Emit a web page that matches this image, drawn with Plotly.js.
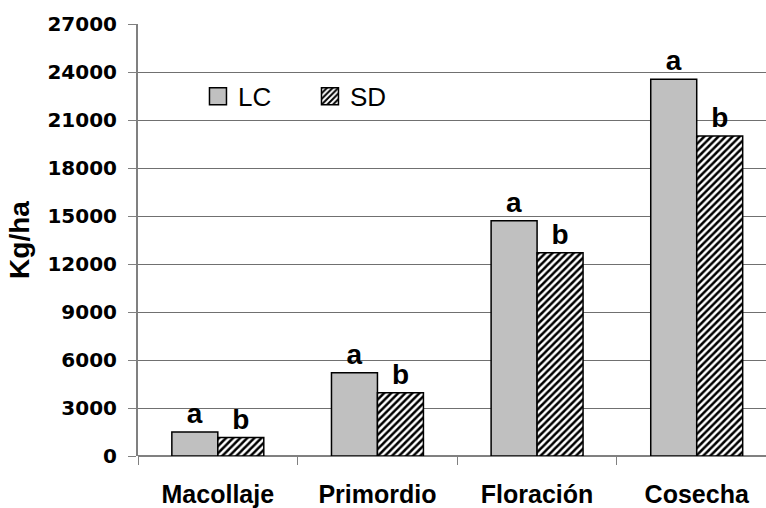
<!DOCTYPE html>
<html>
<head>
<meta charset="utf-8">
<script src="https://cdn.plot.ly/plotly-3.0.1.min.js"></script>
<style>
  html, body { margin: 0; padding: 0; background: #ffffff; }
  #chart { width: 766px; height: 508px; }
</style>
</head>
<body>
<div id="chart"></div>
<script>
// ---- data ----
var categories = ['Macollaje', 'Primordio', 'Floración', 'Cosecha'];
var seriesNames = ['LC', 'SD'];
var lcValues = [1500, 5200, 14700, 23550];
var sdValues = [1150, 3950, 12700, 20000];
var lcLetters = ['a', 'a', 'a', 'a'];
var sdLetters = ['b', 'b', 'b', 'b'];
var yTickValues = [0, 3000, 6000, 9000, 12000, 15000, 18000, 21000, 24000, 27000];
var yTickLabels = ['0', '3000', '6000', '9000', '12000', '15000', '18000', '21000', '24000', '27000'];

var letterFont = { family: 'Liberation Sans, Arial, sans-serif', size: 28, color: '#000000', weight: 'bold' };

var traceLC = {
  type: 'bar',
  name: seriesNames[0],
  x: categories,
  y: lcValues,
  text: lcLetters,
  textposition: 'outside',
  outsidetextfont: letterFont,
  textfont: letterFont,
  cliponaxis: false,
  hoverinfo: 'none',
  marker: {
    color: '#c0c0c0',
    line: { color: '#000000', width: 1.5 }
  }
};

var traceSD = {
  type: 'bar',
  name: seriesNames[1],
  x: categories,
  y: sdValues,
  text: sdLetters,
  textposition: 'outside',
  outsidetextfont: letterFont,
  textfont: letterFont,
  cliponaxis: false,
  hoverinfo: 'none',
  marker: {
    color: '#ffffff',
    line: { color: '#000000', width: 1.5 },
    pattern: { shape: '/', fgcolor: '#000000', bgcolor: '#ffffff', size: 5, solidity: 0.5, fillmode: 'replace' }
  }
};

var layout = {
  width: 766,
  height: 508,
  margin: { l: 138, r: 0, t: 24, b: 52, pad: 0 },
  paper_bgcolor: '#ffffff',
  plot_bgcolor: '#ffffff',
  barmode: 'group',
  bargap: 0.424,
  bargroupgap: 0,
  showlegend: true,
  legend: {
    orientation: 'h',
    x: 0.0955,
    y: 0.887,
    xanchor: 'left',
    yanchor: 'top',
    bgcolor: 'rgba(0,0,0,0)',
    borderwidth: 0,
    font: { family: 'Liberation Sans, Arial, sans-serif', size: 26, color: '#000000' },
    entrywidth: 67,
    entrywidthmode: 'pixels',
    traceorder: 'normal'
  },
  xaxis: {
    type: 'category',
    range: [-0.5, 3.434],
    showgrid: false,
    showline: false,
    zeroline: false,
    ticks: 'outside',
    tickson: 'boundaries',
    ticklen: 8,
    tickwidth: 1,
    tickcolor: '#808080',
    ticklabelstandoff: 21,
    tickfont: { family: 'Liberation Sans, Arial, sans-serif', size: 25, color: '#000000', weight: 'bold' },
    fixedrange: true
  },
  yaxis: {
    range: [0, 27000],
    tickvals: yTickValues,
    ticktext: yTickLabels,
    showgrid: true,
    gridcolor: '#707070',
    gridwidth: 1,
    showline: true,
    linecolor: '#808080',
    linewidth: 2,
    zeroline: true,
    zerolinecolor: '#808080',
    zerolinewidth: 1.5,
    ticks: 'outside',
    ticklen: 8,
    tickwidth: 1,
    tickcolor: '#808080',
    ticklabelstandoff: 7,
    tickfont: { family: 'DejaVu Sans, sans-serif', size: 20, color: '#000000', weight: 'bold' },
    title: {
      text: 'Kg/ha',
      font: { family: 'Liberation Sans, Arial, sans-serif', size: 28, color: '#000000', weight: 'bold' },
      standoff: 10
    },
    automargin: false,
    fixedrange: true
  }
};

Plotly.newPlot('chart', [traceLC, traceSD], layout, { staticPlot: true, displayModeBar: false }).then(function (gd) {
  var paths = gd.querySelectorAll('.legend .legendpoints path');
  paths.forEach(function (p) {
    p.setAttribute('d', 'M8.5,8.5H-8.5V-8.5H8.5Z');
  });
});
</script>
</body>
</html>
